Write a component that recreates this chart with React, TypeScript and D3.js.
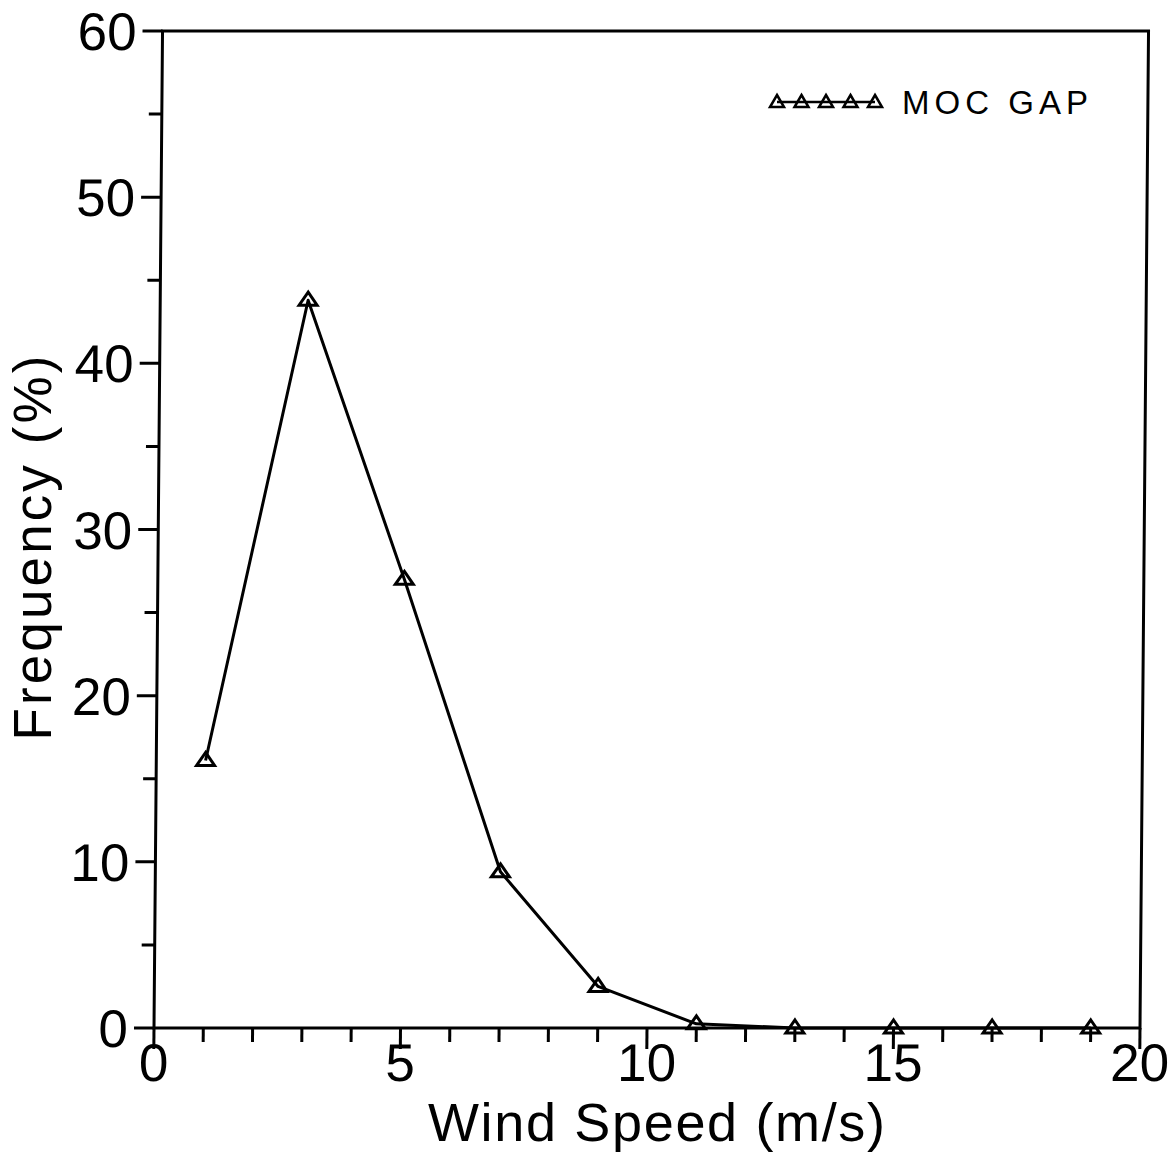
import React from "react";
import * as d3 from "d3";

const windSpeed = [1, 3, 5, 7, 9, 11, 13, 15, 17, 19];
const frequency = [16.1, 43.8, 27.0, 9.4, 2.5, 0.25, 0, 0, 0, 0];
const yMajorTicks = [0, 10, 20, 30, 40, 50, 60];
const yMinorTicks = [5, 15, 25, 35, 45, 55];
const xMajorTicks = [0, 5, 10, 15, 20];
const xMinorTicks = d3.range(0, 21);
const seriesName = "MOC  GAP";
const xTitle = "Wind Speed (m/s)";
const yTitle = "Frequency  (%)";

const W = 1170;
const H = 1153;
const L = 154, R = 1140, T = 31, B = 1028;
const FONT = "'Liberation Sans', Arial, sans-serif";

function tri(cx: number, cy: number) {
  return `M${cx},${cy - 8} L${cx + 9},${cy + 5} L${cx - 9},${cy + 5} Z`;
}

export default function App() {
  const x = d3.scaleLinear().domain([0, 20]).range([L, R]);
  const y = d3.scaleLinear().domain([0, 60]).range([B, T]);
  const line = d3
    .line<number>()
    .x((_, i) => x(windSpeed[i]))
    .y((d) => y(d));
  const skew = `translate(0,${B}) skewX(-0.49) translate(0,${-B})`;
  const legX = d3.range(5).map((i) => 777 + i * 24.5);
  return (
    <svg width={W} height={H} style={{ position: "absolute", left: 0, top: 0, background: "#fff" }}>
      <rect x={0} y={0} width={W} height={H} fill="#fff" />
      <g transform={skew} stroke="#000" fill="none" strokeWidth={3}>
        <path d={`M${L},${B} L${L},${T} L${R},${T} L${R},${B} Z`} />
        {yMajorTicks.map((t) => (
          <line key={"ym" + t} x1={L - 20} x2={L} y1={y(t)} y2={y(t)} />
        ))}
        {yMinorTicks.map((t) => (
          <line key={"yn" + t} x1={L - 13} x2={L} y1={y(t)} y2={y(t)} />
        ))}
        {xMinorTicks.map((t) => (
          <line key={"xn" + t} x1={x(t)} x2={x(t)} y1={B} y2={B + (xMajorTicks.includes(t) ? 21 : 14)} />
        ))}
        <path d={line(frequency) || ""} strokeWidth={3} strokeLinejoin="round" />
        {frequency.map((v, i) => (
          <path key={"m" + i} d={tri(x(windSpeed[i]), y(v))} strokeWidth={3} strokeLinejoin="miter" />
        ))}
        {yMajorTicks.map((t) => (
          <text
            key={"yl" + t}
            x={128}
            y={y(t)}
            dy="0.36em"
            textAnchor="end"
            fontFamily={FONT}
            fontSize={53}
            fill="#000"
            stroke="none"
          >
            {t}
          </text>
        ))}
        {xMajorTicks.map((t) => (
          <text
            key={"xl" + t}
            x={x(t)}
            y={1081}
            textAnchor="middle"
            fontFamily={FONT}
            fontSize={53}
            fill="#000"
            stroke="none"
          >
            {t}
          </text>
        ))}
      </g>
      <text
        x={428}
        y={1141}
        fontFamily={FONT}
        fontSize={54}
        textLength={457}
        lengthAdjust="spacing"
        fill="#000"
      >
        {xTitle}
      </text>
      <text
        transform={`translate(51,548) rotate(-90)`}
        textAnchor="middle"
        fontFamily={FONT}
        fontSize={53}
        textLength={385}
        lengthAdjust="spacing"
        fill="#000"
      >
        {yTitle}
      </text>
      <g stroke="#000" fill="none" strokeWidth={2.5}>
        <line x1={legX[0]} x2={legX[4]} y1={102} y2={102} />
        {legX.map((lx, i) => (
          <path key={"lg" + i} d={`M${lx},${95} L${lx + 7},${107} L${lx - 7},${107} Z`} />
        ))}
      </g>
      <text
        x={902}
        y={114}
        fontFamily={FONT}
        fontSize={33}
        textLength={186}
        lengthAdjust="spacing"
        fill="#000"
      >
        {seriesName}
      </text>
    </svg>
  );
}
